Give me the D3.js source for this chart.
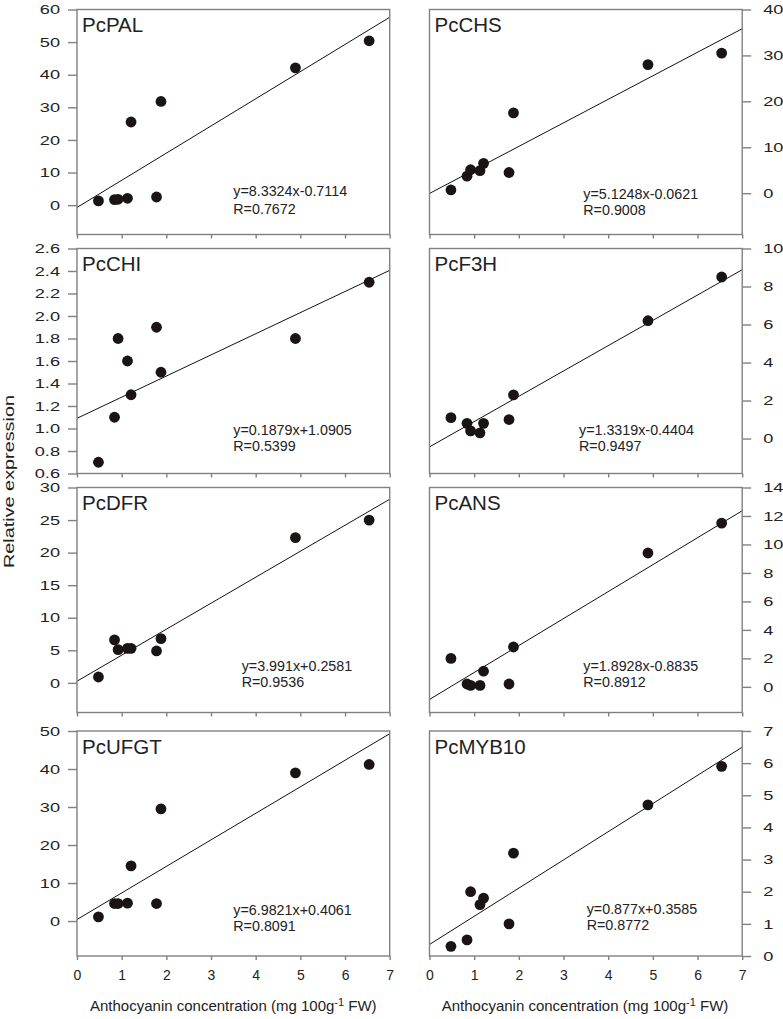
<!DOCTYPE html>
<html>
<head>
<meta charset="utf-8">
<script src="https://cdn.jsdelivr.net/npm/d3@7/dist/d3.min.js"></script>
<style>
  html, body { margin: 0; padding: 0; background: #fff; }
  svg { display: block; font-family: Arial, "Liberation Sans", Helvetica, sans-serif; }
</style>
</head>
<body>
<svg id="chart" width="783" height="1019"></svg>
<script>
// ---------------- DATA ----------------
const anthocyanin = [0.48, 0.84, 0.92, 1.13, 1.21, 1.78, 1.88, 4.89, 6.54];
const genes = ["PcPAL", "PcCHS", "PcCHI", "PcF3H", "PcDFR", "PcANS", "PcUFGT", "PcMYB10"];

const palValues  = [1.3, 1.7, 1.8, 2.1, 25.5, 2.5, 31.8, 42.1, 50.4];
const chsValues  = [0.7, 3.7, 5.1, 4.9, 6.5, 4.5, 17.5, 28.0, 30.5];
const chiValues  = [0.7, 1.1, 1.8, 1.6, 1.3, 1.9, 1.5, 1.8, 2.3];
const f3hValues  = [1.1, 0.8, 0.4, 0.3, 0.8, 1.0, 2.3, 6.2, 8.5];
const dfrValues  = [0.9, 6.6, 5.1, 5.3, 5.3, 4.9, 6.8, 22.3, 25.0];
const ansValues  = [2.0, 0.2, 0.1, 0.1, 1.1, 0.2, 2.8, 9.4, 11.5];
const ufgtValues = [1.1, 4.6, 4.6, 4.7, 14.5, 4.6, 29.5, 39.0, 41.2];
const mybValues  = [0.3, 0.5, 2.0, 1.6, 1.8, 1.0, 3.2, 4.7, 5.9];
const seriesValues = [palValues, chsValues, chiValues, f3hValues, dfrValues, ansValues, ufgtValues, mybValues];

const slopes     = ["8.3324", "5.1248", "0.1879", "1.3319", "3.991", "1.8928", "6.9821", "0.877"];
const intercepts = ["-0.7114", "-0.0621", "1.0905", "-0.4404", "0.2581", "-0.8835", "0.4061", "0.3585"];
const rValues    = ["0.7672", "0.9008", "0.5399", "0.9497", "0.9536", "0.8912", "0.8091", "0.8772"];

// axis ranges and tick labels
const yMin = [-9, -9, 0.6, -1.84, -4.55, -1.8, -9.2, 0];
const yMax = [60, 40, 2.6, 10, 30, 14, 50, 7];
const yTicks = [
  [0, 10, 20, 30, 40, 50, 60],
  [0, 10, 20, 30, 40],
  [0.6, 0.8, 1.0, 1.2, 1.4, 1.6, 1.8, 2.0, 2.2, 2.4, 2.6],
  [0, 2, 4, 6, 8, 10],
  [0, 5, 10, 15, 20, 25, 30],
  [0, 2, 4, 6, 8, 10, 12, 14],
  [0, 10, 20, 30, 40, 50],
  [0, 1, 2, 3, 4, 5, 6, 7]
];
const yFormats = ["d", "d", ".1f", "d", "d", "d", "d", "d"];
const xTicks = [0, 1, 2, 3, 4, 5, 6, 7];
const xDomain = [0, 7];

// ---------------- LAYOUT ----------------
const colLeft = [77, 429.5];
const panelW = 312.7;
const rowTop = [9.5, 248.5, 487.5, 731];
const panelH = 225;
// equation annotation offsets (relative to panel left/top): [x, baseline1, baseline2]
const eqOffsets = [
  [156.3, 186, 204.5], [153.8, 189.5, 205.5],
  [156.3, 186.5, 202.2], [149.5, 186.5, 202.2],
  [164.7, 183.2, 199.2], [153.8, 183.2, 199.2],
  [156.3, 184.2, 200], [157.2, 182.5, 198.5]
];

const boxColor = "#808080";
const textColor = "#222";

const svg = d3.select("#chart");

genes.forEach((gene, i) => {
  const col = i % 2, row = Math.floor(i / 2);
  const left = colLeft[col], top = rowTop[row];
  const g = svg.append("g").attr("transform", `translate(${left},${top})`);

  const x = d3.scaleLinear().domain(xDomain).range([0, panelW]);
  const y = d3.scaleLinear().domain([yMin[i], yMax[i]]).range([panelH, 0]);

  // clip
  const clipId = "clip" + i;
  g.append("clipPath").attr("id", clipId)
    .append("rect").attr("width", panelW).attr("height", panelH);

  // regression line
  const s = +slopes[i], b = +intercepts[i];
  const lineData = xDomain.map(v => [v, s * v + b]);
  g.append("path")
    .attr("clip-path", `url(#${clipId})`)
    .attr("d", d3.line().x(d => x(d[0])).y(d => y(d[1]))(lineData))
    .attr("stroke", "#111").attr("stroke-width", 1).attr("fill", "none");

  // points
  g.selectAll("circle.pt").data(anthocyanin.map((v, k) => [v, seriesValues[i][k]]))
    .join("circle").attr("class", "pt")
    .attr("cx", d => x(d[0])).attr("cy", d => y(d[1]))
    .attr("r", 5.4).attr("fill", "#1a1414");

  // box
  g.append("rect").attr("width", panelW).attr("height", panelH)
    .attr("fill", "none").attr("stroke", boxColor).attr("stroke-width", 1.4);

  // x axis
  const xAxis = d3.axisBottom(x).tickValues(xTicks).tickSize(4).tickPadding(10)
    .tickFormat(row === 3 ? d3.format("d") : () => "");
  const xg = g.append("g").attr("transform", `translate(0,${panelH})`).call(xAxis);
  xg.select(".domain").remove();
  xg.selectAll(".tick line").attr("stroke", boxColor).attr("stroke-width", 1.4);
  xg.selectAll(".tick text").attr("fill", textColor).style("font-size", "14px")
    .style("font-family", "Arial, 'Liberation Sans', sans-serif");

  // y axis
  const fmt = d3.format(yFormats[i]);
  const yAxis = (col === 0 ? d3.axisLeft(y) : d3.axisRight(y))
    .tickValues(yTicks[i]).tickSize(9).tickFormat(fmt);
  const yg = g.append("g").attr("transform", col === 0 ? "translate(0,0)" : `translate(${panelW},0)`).call(yAxis);
  yg.select(".domain").remove();
  yg.selectAll(".tick line").attr("stroke", boxColor).attr("stroke-width", 1.4);
  yg.selectAll(".tick text")
    .attr("fill", textColor)
    .style("font-size", "13px")
    .style("font-family", "Arial, 'Liberation Sans', sans-serif")
    .attr("x", 0)
    .attr("text-anchor", col === 0 ? "end" : "start")
    .attr("transform", col === 0 ? "translate(-17,0) scale(1.4,1)" : "translate(21,0) scale(1.4,1)");

  // gene label
  g.append("text").attr("x", 5).attr("y", 22.5)
    .attr("fill", textColor).style("font-size", "20.5px").text(gene);

  // equation
  const eq = eqOffsets[i];
  const sign = intercepts[i].startsWith("-") ? "" : "+";
  g.append("text").attr("x", eq[0]).attr("y", eq[1])
    .attr("fill", textColor).style("font-size", "14.3px")
    .text(`y=${slopes[i]}x${sign}${intercepts[i]}`);
  g.append("text").attr("x", eq[0]).attr("y", eq[2])
    .attr("fill", textColor).style("font-size", "14.3px")
    .text(`R=${rValues[i]}`);
});

// x axis titles
[233.3, 585].forEach(cx => {
  const t = svg.append("text").attr("x", cx).attr("y", 1011)
    .attr("text-anchor", "middle").attr("fill", textColor).style("font-size", "15px");
  t.append("tspan").text("Anthocyanin concentration (mg 100g");
  t.append("tspan").attr("dy", -5).style("font-size", "11px").text("-1");
  t.append("tspan").attr("dy", 5).text(" FW)");
});

// y axis title
svg.append("text")
  .attr("transform", "translate(13.5,481.5) rotate(-90)")
  .attr("text-anchor", "middle").attr("fill", textColor)
  .style("font-size", "14.5px")
  .attr("textLength", 173).attr("lengthAdjust", "spacingAndGlyphs")
  .text("Relative expression");
</script>
</body>
</html>
